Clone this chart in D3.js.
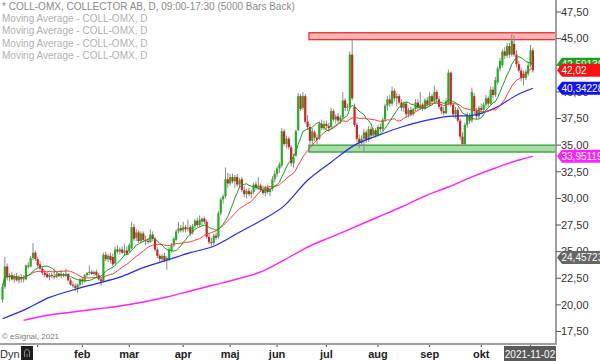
<!DOCTYPE html>
<html><head><meta charset="utf-8">
<script src="https://cdn.jsdelivr.net/npm/d3@7/dist/d3.min.js"></script>
<style>
body{margin:0;background:#fff;}
svg{display:block;font-family:"Liberation Sans",Arial,sans-serif;}
</style>
</head><body>
<svg id="chart" width="600" height="361"></svg>
<script>
// ---------- DATA ----------
const openP = [
20.5,21.7,23.6,22.6,22.8,22.4,22.7,22.3,22.6,22.4,
22.4,23.7,23.6,24.4,24.9,24.3,23.8,23.4,23.0,22.9,
22.6,22.8,22.7,22.6,22.9,22.7,22.9,22.8,22.9,22.3,
21.9,21.8,21.6,21.9,22.4,22.2,22.8,23.0,23.1,22.9,
23.1,22.8,22.4,22.2,24.7,24.3,24.6,24.5,23.9,25.2,
25.0,25.2,24.9,25.1,25.0,25.3,27.3,26.3,26.8,26.0,
26.7,26.1,26.0,25.9,26.6,26.2,25.2,24.6,24.3,24.6,
24.2,24.3,25.1,25.6,26.1,26.9,27.2,27.0,27.3,27.1,
27.3,26.8,27.4,27.9,27.5,27.8,28.1,27.8,26.4,25.9,
25.8,26.5,26.4,28.6,29.9,30.2,31.8,31.4,32.0,31.6,
32.0,31.3,31.8,30.8,30.4,30.7,30.4,30.6,31.3,31.0,
31.2,30.8,30.5,31.0,30.6,30.9,31.8,32.3,32.8,33.1,
36.3,35.1,35.6,34.8,33.3,34.0,36.4,39.6,38.5,39.6,
37.2,36.7,35.4,36.2,35.7,35.6,37.0,36.6,37.0,36.8,
36.7,38.2,37.4,37.7,37.3,37.6,39.2,38.5,38.6,43.5,
38.6,36.9,35.6,35.2,35.6,36.2,35.5,36.5,35.9,36.4,
35.9,36.7,36.5,37.4,38.7,39.3,38.9,40.1,39.4,39.6,
39.0,38.5,38.9,37.9,38.3,37.9,38.4,39.0,38.5,38.8,
38.4,39.2,38.8,39.6,39.1,40.0,39.3,38.6,38.2,38.0,
38.9,41.8,38.8,37.9,38.3,37.3,35.8,35.1,36.9,37.8,
37.3,39.6,38.2,37.7,38.5,38.3,38.8,39.4,38.9,40.2,
39.7,40.9,42.2,42.5,43.8,43.4,44.3,43.5,44.5,43.5,
42.6,42.0,41.7,41.3,41.7,42.5,43.9];
const highP = [
21.9,24.5,23.9,23.0,23.1,22.9,23.0,22.8,22.9,22.8,
23.8,24.0,24.6,25.8,25.1,24.5,24.1,23.6,23.3,23.1,
23.0,23.0,23.4,23.0,23.0,23.3,23.0,23.4,23.0,22.5,
22.2,22.0,22.0,22.5,22.6,22.9,23.1,23.7,23.3,23.2,
23.3,23.0,22.6,24.9,25.0,24.8,24.9,24.8,25.5,25.6,
25.4,25.5,25.7,25.5,25.8,27.8,27.6,27.1,27.0,26.9,
26.9,26.5,26.3,27.1,26.9,26.4,25.4,24.8,24.8,24.9,
24.6,25.4,25.8,26.4,27.1,27.8,27.5,27.8,27.5,28.0,
27.5,27.6,28.1,28.2,28.4,28.2,28.3,28.0,26.7,26.3,
26.7,26.8,28.8,30.1,30.4,32.9,32.4,32.3,32.3,32.2,
32.3,31.9,32.0,31.2,30.9,31.0,30.8,31.5,31.6,32.0,
31.4,31.2,31.2,31.3,31.0,32.1,32.6,33.0,33.4,36.6,
36.5,35.9,35.8,35.0,34.2,36.5,39.9,39.8,40.0,39.8,
37.8,37.0,36.6,36.4,36.0,37.2,37.4,37.3,37.3,37.1,
38.5,38.4,37.9,38.0,37.8,40.0,39.4,38.9,43.8,45.0,
38.9,37.1,36.0,35.9,36.5,36.4,36.8,36.7,36.6,36.6,
36.9,37.0,37.6,38.9,39.6,39.7,40.5,40.3,39.9,39.8,
39.3,39.1,39.1,38.5,38.6,38.5,39.3,39.3,40.0,39.0,
39.4,39.5,40.0,39.8,40.6,40.2,39.6,38.9,38.6,39.4,
42.1,41.9,39.0,38.6,38.5,37.5,36.2,37.1,38.1,38.0,
40.4,39.9,38.5,38.7,38.9,39.0,39.7,39.6,40.5,40.5,
41.4,42.4,43.2,44.0,44.2,44.6,44.6,45.4,45.3,43.9,
42.9,42.3,42.0,42.1,42.8,44.4,44.1];
const lowP = [
20.2,21.5,22.3,22.2,22.3,22.1,22.2,22.0,22.1,22.1,
22.3,23.4,23.5,24.2,24.1,23.5,23.3,22.8,22.6,22.5,
22.3,22.5,22.4,22.5,22.6,22.5,22.6,22.6,22.2,21.8,
21.6,21.3,21.1,21.7,21.9,22.1,22.6,22.8,22.8,22.7,
22.6,22.3,21.8,22.1,24.1,24.0,23.9,23.6,23.8,24.8,
24.7,24.8,24.6,24.7,24.9,25.2,26.0,26.0,25.8,25.8,
25.9,25.6,25.7,25.8,26.0,25.0,24.4,24.0,24.1,24.0,
23.3,24.1,24.9,25.4,26.0,26.7,26.8,26.8,26.8,26.9,
26.5,26.6,27.2,27.3,27.3,27.4,27.6,26.2,25.7,25.5,
25.6,26.1,26.2,28.4,29.5,30.0,31.0,31.2,31.4,31.0,
31.1,31.0,30.6,30.1,30.0,30.2,30.0,30.4,30.8,30.8,
30.6,30.3,30.2,30.4,30.2,30.7,31.5,32.0,32.4,32.9,
34.9,34.7,34.6,33.0,32.9,33.9,36.3,38.2,38.3,37.0,
36.4,35.1,35.0,35.4,35.1,35.5,36.4,36.4,36.5,36.3,
36.5,37.2,37.0,37.1,37.0,37.4,38.2,38.2,38.4,39.2,
36.7,35.3,34.7,34.9,34.4,35.2,35.3,35.6,35.7,35.7,
35.8,36.2,36.3,37.2,38.2,38.6,38.7,39.1,38.7,38.8,
38.2,38.1,37.6,37.6,37.7,37.7,38.2,38.3,38.3,38.2,
38.3,38.6,38.6,38.9,38.9,39.0,38.4,37.9,37.8,37.9,
38.7,38.6,37.6,37.5,37.1,35.5,34.9,35.0,36.6,37.0,
37.1,37.9,37.4,37.5,38.0,38.1,38.5,38.6,38.8,39.4,
39.5,40.7,41.9,42.3,43.1,43.2,43.2,43.3,43.3,42.3,
41.8,41.0,40.6,41.1,41.5,42.3,41.8];
const closeP = [
21.7,23.6,22.6,22.8,22.4,22.7,22.3,22.6,22.4,22.5,
23.7,23.6,24.4,24.9,24.3,23.7,23.4,23.0,22.8,22.6,
22.8,22.7,22.6,22.9,22.7,22.9,22.8,22.9,22.3,21.9,
21.8,21.6,21.9,22.4,22.2,22.8,23.0,23.1,22.9,23.1,
22.8,22.4,22.2,24.7,24.3,24.6,24.2,23.8,25.2,25.0,
25.2,24.9,25.1,24.8,25.6,27.3,26.2,26.8,26.0,26.7,
26.1,26.0,25.9,26.6,26.2,25.2,24.6,24.3,24.6,24.2,
24.4,25.2,25.6,26.2,26.9,27.2,27.0,27.3,27.1,27.2,
26.7,27.4,27.9,27.5,28.0,28.1,27.8,26.4,25.9,25.8,
26.5,26.3,28.6,29.9,30.2,31.8,31.4,32.0,31.6,32.0,
31.3,31.7,30.8,30.4,30.7,30.4,30.6,31.3,31.0,31.2,
30.8,30.5,31.0,30.6,30.9,31.8,32.3,32.8,33.2,36.3,
35.1,35.6,34.8,33.3,33.9,36.3,39.6,38.4,39.6,37.2,
36.7,35.4,36.3,35.7,35.5,37.0,36.6,37.0,36.8,36.6,
38.2,37.4,37.7,37.3,37.6,39.2,38.5,38.6,43.5,39.4,
36.9,35.6,35.2,35.6,36.2,35.5,36.5,35.9,36.4,35.9,
36.7,36.5,37.4,38.7,39.3,38.9,40.1,39.4,39.6,39.0,
38.5,38.9,37.9,38.3,37.9,38.4,39.0,38.5,38.8,38.4,
39.2,38.8,39.6,39.1,40.0,39.3,38.6,38.2,38.0,39.1,
41.8,38.8,37.9,38.3,37.3,35.8,35.1,36.9,37.8,37.3,
40.0,38.2,37.7,38.5,38.3,38.8,39.4,38.9,40.2,39.7,
41.1,42.2,42.9,43.8,43.4,44.3,43.5,44.8,43.5,42.6,
42.0,41.3,41.3,41.9,42.5,43.9,42.02];

// long moving averages (bar index, value)
const blueBars = [0,10,20,30,40,50,60,70,80,90,100,110,120,130,140,150,160,170,180,190,200,210,220,226];
const blueVals = [18.7,19.6,20.7,21.4,22.0,22.6,23.5,24.2,24.9,25.5,26.7,27.9,29.3,31.7,33.4,35.0,35.9,36.7,37.3,37.7,37.8,38.5,39.8,40.34];
const magBars = [9,20,30,40,50,60,70,80,90,100,110,120,130,140,150,160,170,180,190,200,210,220,226];
const magVals = [18.55,19.05,19.33,19.61,19.89,20.27,20.74,21.30,21.87,22.43,23.09,24.21,25.43,26.37,27.31,28.25,29.19,30.22,31.07,32.01,32.85,33.60,33.95];

// short moving-average periods
const greenPeriod = 10, redPeriod = 20;

// axis
const yTicks = [17.5,20,22.5,25,27.5,30,32.5,35,37.5,40,42.5,45,47.5];
const monthTickBars = [15,34,54,77,97,117,138,160,182,204,225];
const monthLabels = ["","feb","mar","apr","maj","jun","jul","aug","sep","okt",""];
const lastDate = "2021-11-02";

// zones
const zoneStartBar = 131;
const resistance = [44.9, 45.55];
const support = [34.35, 35.0];

// price tags on the right
const tagVals = [42.59136, 42.02, 40.34228, 33.95119, 24.45723];
const tagText = ["42,59136", "42,02", "40,34228", "33,95119", "24,45723"];
const tagColors = ["#1f9e1f", "#ff1010", "#1010ff", "#ff20ff", "#666666"];

const legendLines = ["* COLL-OMX, COLLECTOR AB, D, 09:00-17:30 (5000 Bars Back)",
  "Moving Average - COLL-OMX, D","Moving Average - COLL-OMX, D",
  "Moving Average - COLL-OMX, D","Moving Average - COLL-OMX, D"];

// ---------- DRAW ----------
const svg = d3.select("#chart");
const axisX = 556, axisY = 344;
const n = closeP.length;
const x = d3.scaleLinear().domain([0, n-1]).range([2.5, 532.9]);
const y = d3.scaleLinear().domain([17.5, 47.5]).range([331.5, 12]);

function sma(arr, p){
  return arr.map((v,i)=>{const s=Math.max(0,i-p+1);return d3.mean(arr.slice(s,i+1));});
}
const greenMA = sma(closeP, greenPeriod);
const redMA = sma(closeP, redPeriod);

// legend
svg.append("g").selectAll("text").data(legendLines).join("text")
  .attr("x",2).attr("y",(d,i)=>10+i*12.2)
  .attr("font-size","10px").attr("fill",(d,i)=>i===0?"#8a8a8a":"#b0b0b0")
  .text(d=>d);

// zones
const zones = [{r:resistance, fill:"#ffb4b4", stroke:"#f02020"},{r:support, fill:"#a9dca9", stroke:"#229922"}];
svg.append("g").selectAll("rect").data(zones).join("rect")
  .attr("x", x(zoneStartBar)-1).attr("width", axisX - x(zoneStartBar)+1)
  .attr("y", d=>y(d.r[1])).attr("height", d=>y(d.r[0])-y(d.r[1]))
  .attr("fill", d=>d.fill).attr("stroke", d=>d.stroke).attr("stroke-width",1.2);

// candles
const idx = d3.range(n);
const cg = svg.append("g");
cg.selectAll("line").data(idx).join("line")
  .attr("x1", i=>x(i)).attr("x2", i=>x(i))
  .attr("y1", i=>y(highP[i])).attr("y2", i=>y(lowP[i]))
  .attr("stroke","#8a8a8a").attr("stroke-width",1);
cg.selectAll("rect").data(idx).join("rect")
  .attr("x", i=>x(i)-1.1).attr("width",2.2)
  .attr("y", i=>y(Math.max(openP[i],closeP[i])))
  .attr("height", i=>Math.max(0.8, Math.abs(y(openP[i])-y(closeP[i]))))
  .attr("fill", i=>closeP[i]>=openP[i]?"#22b022":"#d42020");

// MA lines
const line = d3.line().curve(d3.curveMonotoneX);
svg.append("path").attr("d", line(magBars.map((b,k)=>[x(b), y(magVals[k])])))
  .attr("fill","none").attr("stroke","#ff22ff").attr("stroke-width",1.4);
svg.append("path").attr("d", line(blueBars.map((b,k)=>[x(b), y(blueVals[k])])))
  .attr("fill","none").attr("stroke","#2626ff").attr("stroke-width",1.2);
const line2 = d3.line();
svg.append("path").attr("d", line2(redMA.map((v,i)=>[x(i), y(v)])))
  .attr("fill","none").attr("stroke","#ff3a3a").attr("stroke-width",1);
svg.append("path").attr("d", line2(greenMA.map((v,i)=>[x(i), y(v)])))
  .attr("fill","none").attr("stroke","#1a9a1a").attr("stroke-width",1);

// axes lines
svg.append("line").attr("x1",0).attr("x2",axisX).attr("y1",axisY).attr("y2",axisY)
  .attr("stroke","#a0a0a0").attr("stroke-width",2);
svg.append("line").attr("x1",axisX).attr("x2",axisX).attr("y1",0).attr("y2",axisY+1)
  .attr("stroke","#a0a0a0").attr("stroke-width",2);

// y ticks
const yt = svg.append("g");
yt.selectAll("line").data(yTicks).join("line")
  .attr("x1",axisX).attr("x2",axisX+5).attr("y1",d=>y(d)).attr("y2",d=>y(d))
  .attr("stroke","#555");
yt.selectAll("text").data(yTicks).join("text")
  .attr("x",axisX+5).attr("y",d=>y(d)).attr("dy","0.35em")
  .attr("font-size","11px").attr("fill","#333")
  .text(d=>d3.format(".2f")(d).replace(".",","));

// month ticks
const mt = svg.append("g");
mt.selectAll("line").data(monthTickBars).join("line")
  .attr("x1",b=>x(b)).attr("x2",b=>x(b)).attr("y1",axisY+1).attr("y2",axisY+3)
  .attr("stroke","#444");
mt.selectAll("text").data(monthTickBars).join("text")
  .attr("x",b=>x(b)).attr("y",358).attr("text-anchor","middle")
  .attr("font-size","11px").attr("font-weight","bold").attr("fill","#222")
  .text((b,k)=>monthLabels[k]);

// date box
svg.append("rect").attr("x",504).attr("y",346).attr("width",52).attr("height",15).attr("fill","#5a5a5a");
svg.append("text").attr("x",530).attr("y",357.5).attr("text-anchor","middle")
  .attr("font-size","10px").attr("fill","#fff").text(lastDate);

// Dyn + icon
svg.append("text").attr("x",0).attr("y",358).attr("font-size","11px").attr("fill","#333").text("Dyn");
svg.append("rect").attr("x",21).attr("y",346).attr("width",12).attr("height",14).attr("fill","#1e1e1e");
svg.append("path").attr("d","M24.5,357 v-5 a2.5,2.5 0 0 1 5,0 v5 M27,357 v-3")
  .attr("fill","none").attr("stroke","#888").attr("stroke-width",1);

// copyright
svg.append("text").attr("x",2).attr("y",339).attr("font-size","8px").attr("fill","#777").text("\u00a9 eSignal, 2021");

// price tags
const tg = svg.append("g");
tagVals.forEach((v,k)=>{
  const cy = y(v);
  tg.append("path").attr("d",`M${axisX+1},${cy} L${axisX+6},${cy-6.5} L600,${cy-6.5} L600,${cy+6.5} L${axisX+6},${cy+6.5} Z`)
    .attr("fill",tagColors[k]);
  tg.append("text").attr("x",axisX+5.5).attr("y",cy).attr("dy","0.36em")
    .attr("font-size","10px").attr("fill","#fff").text(tagText[k]);
});
</script>
</body></html>
